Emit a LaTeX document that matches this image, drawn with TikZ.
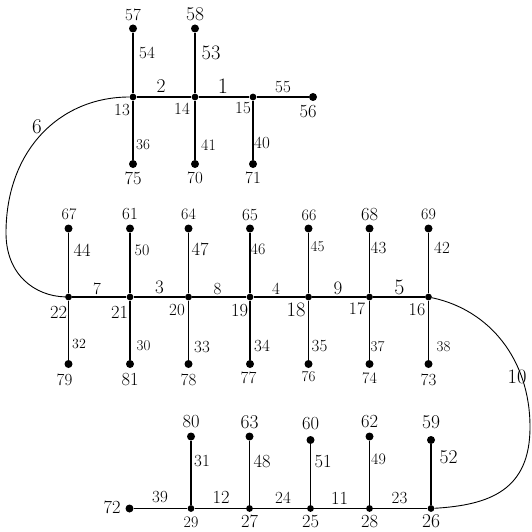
\documentclass[tikz,border=0pt]{standalone}
\begin{document}
\begin{tikzpicture}[x=1pt,y=-1pt,
  leaf/.style={circle,fill=black,inner sep=0pt,minimum size=8pt},
  inner/.style={circle,fill=black,inner sep=0pt,minimum size=6.8pt},
  lab/.style={inner sep=0pt,font=\fontsize{#1}{#1}\selectfont},
  edge/.style={line width=1.1pt},
  arc/.style={line width=0.9pt}]
\useasboundingbox (0,0) rectangle (531,532);
% ---- top group
\node[inner] (n13) at (133,97) {};
\node[inner] (n14) at (195,97) {};
\node[inner] (n15) at (253,97) {};
\node[leaf] (n56) at (313,97) {};
\node[leaf] (n57) at (133,28.5) {};
\node[leaf] (n58) at (195,28.5) {};
\node[leaf] (n75) at (133,164) {};
\node[leaf] (n70) at (195,164) {};
\node[leaf] (n71) at (253,164) {};
% ---- middle group
\node[inner] (n22) at (68.5,297) {};
\node[inner] (n21) at (130,297) {};
\node[inner] (n20) at (188.5,297) {};
\node[inner] (n19) at (250,297) {};
\node[inner] (n18) at (308.5,297) {};
\node[inner] (n17) at (369.5,297) {};
\node[inner] (n16) at (428.5,297) {};
\node[leaf] (n67) at (68.5,228.5) {};
\node[leaf] (n61) at (130,228.5) {};
\node[leaf] (n64) at (188.5,228.5) {};
\node[leaf] (n65) at (250,228.5) {};
\node[leaf] (n66) at (308.5,228.5) {};
\node[leaf] (n68) at (369.5,228.5) {};
\node[leaf] (n69) at (428.5,228.5) {};
\node[leaf] (n79) at (68.5,364) {};
\node[leaf] (n81) at (130,364) {};
\node[leaf] (n78) at (188.5,364) {};
\node[leaf] (n77) at (250,364) {};
\node[leaf] (n76) at (308.5,364) {};
\node[leaf] (n74) at (369.5,364) {};
\node[leaf] (n73) at (428.5,364) {};
% ---- bottom group
\node[leaf] (n72) at (129.5,508.5) {};
\node[inner] (n29) at (191,508.5) {};
\node[inner] (n27) at (249.5,508.5) {};
\node[inner] (n25) at (310.5,508.5) {};
\node[inner] (n28) at (369.5,508.5) {};
\node[inner] (n26) at (431,508.5) {};
\node[leaf] (n80) at (191,436.5) {};
\node[leaf] (n63) at (249.5,436.5) {};
\node[leaf] (n60) at (310.5,440) {};
\node[leaf] (n62) at (369.5,436.5) {};
\node[leaf] (n59) at (431,440) {};
% ---- edges
\draw[edge] (n13)--(n57) (n14)--(n58) (n13)--(n14) (n14)--(n15) (n15)--(n56)
  (n13)--(n75) (n14)--(n70) (n15)--(n71);
\draw[edge] (n22)--(n67) (n21)--(n61) (n20)--(n64) (n19)--(n65) (n18)--(n66) (n17)--(n68) (n16)--(n69)
  (n22)--(n21) (n21)--(n20) (n20)--(n19) (n19)--(n18) (n18)--(n17) (n17)--(n16)
  (n22)--(n79) (n21)--(n81) (n20)--(n78) (n19)--(n77) (n18)--(n76) (n17)--(n74) (n16)--(n73);
\draw[edge] (n29)--(n80) (n27)--(n63) (n25)--(n60) (n28)--(n62) (n26)--(n59)
  (n72)--(n29) (n29)--(n27) (n27)--(n25) (n25)--(n28) (n28)--(n26);
\coordinate (w6) at (6,233);
\coordinate (e10) at (530,427);
\draw[arc] (n13) .. controls (60,97) and (6,150) .. (w6) .. controls (6,275) and (35,296) .. (n22);
\draw[arc] (n16) .. controls (490,310) and (530,360) .. (e10) .. controls (530,490) and (490,505) .. (n26);
% ---- vertex labels
\node[lab=17] (l57) at (133,15) {57};
\node[lab=19.5] (l58) at (195,14) {58};
\node[lab=17] (l13) at (122,110) {13};
\node[lab=17] (l14) at (182,109) {14};
\node[lab=17] (l15) at (243,108) {15};
\node[lab=18.5] (l56) at (308,112) {56};
\node[lab=18.5] (l75) at (133,178) {75};
\node[lab=17] (l70) at (195,178) {70};
\node[lab=17] (l71) at (253,178) {71};
\node[lab=16] (l67) at (69,214) {67};
\node[lab=17] (l61) at (130,214) {61};
\node[lab=16] (l64) at (188.5,214) {64};
\node[lab=17] (l65) at (250,215) {65};
\node[lab=16] (l66) at (309,215) {66};
\node[lab=18.5] (l68) at (369.5,215) {68};
\node[lab=16] (l69) at (428.5,214) {69};
\node[lab=18.5] (l22) at (58.5,312.5) {22};
\node[lab=18.5] (l21) at (119.5,312.5) {21};
\node[lab=17] (l20) at (177,310) {20};
\node[lab=18.5] (l19) at (239.5,311) {19};
\node[lab=20.5] (l18) at (296,310) {18};
\node[lab=17.5] (l17) at (357,308.5) {17};
\node[lab=18] (l16) at (417,310) {16};
\node[lab=17] (l79) at (64.5,380) {79};
\node[lab=18.5] (l81) at (130,380) {81};
\node[lab=17] (l78) at (188.5,380) {78};
\node[lab=17] (l77) at (248.5,378) {77};
\node[lab=15] (l76) at (308.5,377) {76};
\node[lab=16] (l74) at (369.5,378) {74};
\node[lab=17] (l73) at (428.5,380) {73};
\node[lab=18.5] (l80) at (191,421.5) {80};
\node[lab=19.5] (l63) at (249.5,422) {63};
\node[lab=18.5] (l60) at (310.5,424) {60};
\node[lab=18.5] (l62) at (369.5,421.5) {62};
\node[lab=19.5] (l59) at (431,422) {59};
\node[lab=18.5] (l72) at (112,507) {72};
\node[lab=16] (l29) at (191,522) {29};
\node[lab=18.5] (l27) at (249.5,521.5) {27};
\node[lab=18.5] (l25) at (310.5,522) {25};
\node[lab=18.5] (l28) at (369.5,521.5) {28};
\node[lab=19.5] (l26) at (431,521) {26};
% ---- edge labels
\node[lab=17] (e54) at (147,53) {54};
\node[lab=20.5] (e53) at (211,53) {53};
\node[lab=19.5] (e2) at (161,86.5) {2};
\node[lab=22] (e1) at (223,86) {1};
\node[lab=17] (e55) at (283,87) {55};
\node[lab=15] (e36) at (143,145) {36};
\node[lab=16] (e41) at (208.5,145) {41};
\node[lab=17] (e40) at (262,143) {40};
\node[lab=21] (e6) at (37,127) {6};
\node[lab=18.5] (e44) at (82,250.5) {44};
\node[lab=16] (e50) at (142,250) {50};
\node[lab=18.5] (e47) at (200,249) {47};
\node[lab=16] (e46) at (258,249) {46};
\node[lab=15] (e45) at (317.5,247) {45};
\node[lab=17] (e43) at (378.5,248) {43};
\node[lab=17] (e42) at (442,248) {42};
\node[lab=17] (e7) at (97,289) {7};
\node[lab=19] (e3) at (159.5,287) {3};
\node[lab=17] (e8) at (217.5,289) {8};
\node[lab=17] (e4) at (276,288.5) {4};
\node[lab=19] (e9) at (338,288) {9};
\node[lab=22] (e5) at (399.5,287) {5};
\node[lab=14] (e32) at (79,344) {32};
\node[lab=15] (e30) at (143.5,346) {30};
\node[lab=17] (e33) at (202,347) {33};
\node[lab=17] (e34) at (262,346) {34};
\node[lab=17] (e35) at (319.5,346.5) {35};
\node[lab=15] (e37) at (377.5,346.5) {37};
\node[lab=15] (e38) at (443.5,346.5) {38};
\node[lab=20.5] (e10) at (517,377) {10};
\node[lab=17] (e31) at (202,461.5) {31};
\node[lab=18.5] (e48) at (262,461.5) {48};
\node[lab=18.5] (e51) at (323,461.5) {51};
\node[lab=16] (e49) at (378.5,459) {49};
\node[lab=19.5] (e52) at (448.5,457.5) {52};
\node[lab=17] (e39) at (160,497.5) {39};
\node[lab=18.5] (e12) at (221,497) {12};
\node[lab=17] (e24) at (283,498) {24};
\node[lab=18.5] (e11) at (339.5,498) {11};
\node[lab=17] (e23) at (399.5,498) {23};
\end{tikzpicture}
\end{document}
